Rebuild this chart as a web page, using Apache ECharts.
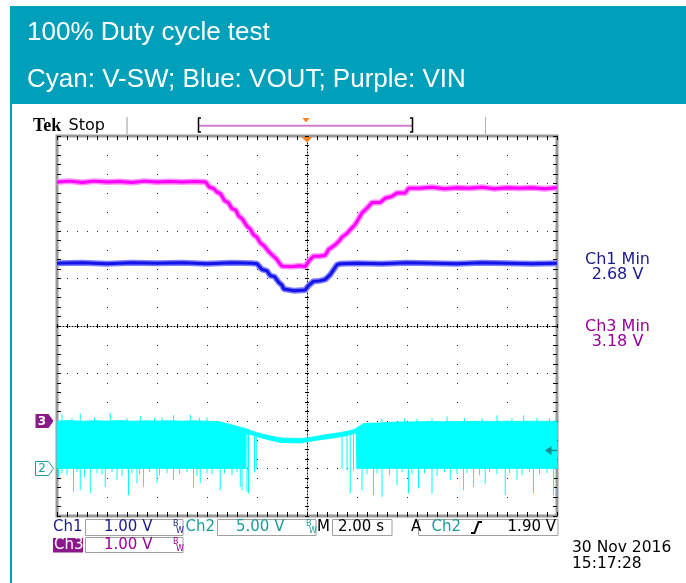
<!DOCTYPE html>
<html>
<head>
<meta charset="utf-8">
<script src="https://cdn.jsdelivr.net/npm/echarts@6/dist/echarts.min.js"></script>
<style>html,body{margin:0;padding:0;background:#fff;}#c{width:686px;height:583px;}</style>
</head>
<body>
<div id="c"></div>
<script>
// ---------------- DATA ----------------
// time in seconds (2 s/div, trigger at 0); volts per channel
const vin = [
  [-10, 5.03], [-9.5, 5.05], [-9, 5.02], [-8.5, 5.05], [-8, 5.03], [-7.5, 5.04], [-7, 5.02], [-6.5, 5.05],
  [-6, 5.03], [-5.5, 5.04], [-5, 5.03], [-4.5, 5.04], [-4.05, 5.03],
  [-3.9, 4.92], [-3.75, 4.90], [-3.6, 4.82], [-3.45, 4.78], [-3.3, 4.64], [-3.15, 4.60], [-3.0, 4.47],
  [-2.85, 4.44], [-2.74, 4.32], [-2.58, 4.25], [-2.4, 4.10], [-2.28, 4.05], [-2.14, 3.92], [-2.0, 3.87],
  [-1.87, 3.75], [-1.7, 3.68], [-1.54, 3.57], [-1.4, 3.50], [-1.2, 3.40], [-1.1, 3.32], [-1.0, 3.26],
  [-0.6, 3.25], [-0.3, 3.27], [-0.07, 3.25], [0.06, 3.36], [0.26, 3.47], [0.5, 3.47], [0.73, 3.49],
  [0.86, 3.61], [1.13, 3.71], [1.3, 3.80], [1.4, 3.87], [1.6, 3.95], [1.73, 4.03], [1.9, 4.12], [2.0, 4.20],
  [2.2, 4.38], [2.4, 4.48], [2.6, 4.60], [2.93, 4.60], [3.13, 4.69], [3.4, 4.73], [3.6, 4.80], [3.93, 4.80],
  [4.06, 4.90], [4.5, 4.90], [5, 4.92], [5.5, 4.89], [6, 4.91], [6.5, 4.90], [7, 4.92], [7.5, 4.89],
  [8, 4.91], [8.5, 4.90], [9, 4.91], [9.5, 4.89], [10, 4.91]
];
const vout = [
  [-10, 3.32], [-9, 3.33], [-8, 3.31], [-7, 3.33], [-6, 3.32], [-5, 3.33], [-4, 3.31], [-3, 3.33], [-2.2, 3.32],
  [-2.0, 3.31], [-1.8, 3.19], [-1.6, 3.16], [-1.47, 3.06], [-1.3, 3.04], [-1.13, 2.92], [-1.0, 2.86],
  [-0.93, 2.78], [-0.85, 2.74], [-0.5, 2.74], [-0.07, 2.76], [0.06, 2.85], [0.26, 2.94], [0.5, 2.95],
  [0.73, 2.98], [0.93, 3.08], [1.07, 3.19], [1.2, 3.29], [1.33, 3.31], [2, 3.32], [3, 3.31], [4, 3.33],
  [5, 3.32], [6, 3.31], [7, 3.33], [8, 3.32], [9, 3.31], [10, 3.32]
];
// switch node envelope (Ch2, 5 V/div)
const swTime = [-10, -9.5, -9, -8.5, -8, -7.5, -7, -6.5, -6, -5.5, -5, -4.5, -4, -3.5, -3.2, -2.95, -2.7, -2.47,
  -2.44, -2.2, -1.87, -1.5, -1.07, -0.6, -0.27, 0, 0.4, 0.75, 1.07, 1.47, 1.75, 1.98,
  2.0, 2.27, 2.6, 2.93, 3.3, 3.6, 4, 4.5, 5, 5.5, 6, 6.5, 7, 7.5, 8, 8.5, 9, 9.5, 10];
const swTop = [5.0, 5.05, 4.98, 5.03, 5.0, 5.04, 4.98, 5.02, 5.0, 5.03, 4.99, 5.02, 4.98, 4.93, 4.72, 4.56, 4.38, 4.22,
  4.18, 3.95, 3.68, 3.45, 3.22, 3.18, 3.16, 3.22, 3.4, 3.55, 3.68, 3.85, 4.0, 4.2,
  4.3, 4.74, 4.78, 4.8, 4.85, 4.9, 4.9, 4.93, 4.95, 4.93, 4.96, 4.95, 4.97, 4.95, 4.98, 4.96, 4.98, 4.97, 4.98];
const swBottom = [0, 0, 0, 0, 0, 0, 0, 0, 0, 0, 0, 0, 0, 0, 0, 0, 0, 0,
  3.75, 3.52, 3.26, 3.0, 2.74, 2.7, 2.69, 2.8, 2.98, 3.1, 3.22, 3.4, 3.55, 3.75,
  0, 0, 0, 0, 0, 0, 0, 0, 0, 0, 0, 0, 0, 0, 0, 0, 0, 0, 0];
// spikes: [time, from V, to V]
const swSpikes = [
  [-9.94, 0.3, -0.88], [-9.34, 0.3, -2.46], [-9.07, 0.3, -2.28], [-8.67, 0.3, -2.6], [-8.07, 0.3, -1.94],
  [-7.6, 0.3, -1.23], [-7.14, 0.3, -2.81], [-6.8, 0.3, -1.55], [-6.54, 0.3, -1.94], [-6.0, 0.3, -1.55],
  [-5.34, 0.3, -1.23], [-4.54, 0.3, -2.07], [-4.27, 0.3, -1.55], [-3.47, 0.3, -2.28], [-2.67, 0.3, -1.94],
  [-2.6, 0.3, -2.28], [-2.4, 3.7, -2.46], [-2.34, 3.7, -2.63], [-2.1, 3.5, -0.42], [-2.03, 3.4, 0.0],
  [1.4, 3.3, 0.0], [1.6, 3.4, -0.2], [1.73, 3.5, -2.63], [1.86, 3.6, -0.2],
  [2.2, 0.3, -2.28], [2.66, 0.3, -2.81], [3.0, 0.3, -2.99], [3.6, 0.3, -1.76], [4.06, 0.3, -2.63],
  [4.46, 0.3, -2.1], [5.0, 0.3, -2.63], [5.73, 0.3, -1.23], [6.26, 0.3, -2.28], [6.66, 0.3, -1.94],
  [7.13, 0.3, -1.58], [7.93, 0.3, -2.81], [8.4, 0.3, -1.23], [9.06, 0.3, -2.63], [9.86, 0.3, -2.81],
  [-9.8, 0.3, -0.5], [-9.6, 0.3, -0.7], [-9.2, 0.3, -0.4], [-8.9, 0.3, -0.9], [-8.4, 0.3, -0.5],
  [-8.2, 0.3, -0.6], [-7.8, 0.3, -0.4], [-7.4, 0.3, -0.8], [-7.0, 0.3, -0.5], [-6.7, 0.3, -0.6],
  [-6.3, 0.3, -0.4], [-5.9, 0.3, -0.7], [-5.6, 0.3, -0.5], [-5.1, 0.3, -0.6], [-4.8, 0.3, -0.4],
  [-4.4, 0.3, -0.8], [-4.0, 0.3, -0.5], [-3.8, 0.3, -0.6], [-3.3, 0.3, -0.5], [-3.0, 0.3, -0.7], [-2.8, 0.3, -0.4],
  [2.4, 0.3, -0.6], [2.8, 0.3, -0.5], [3.3, 0.3, -0.7], [3.8, 0.3, -0.4], [4.2, 0.3, -0.6], [4.7, 0.3, -0.5],
  [5.2, 0.3, -0.8], [5.5, 0.3, -0.4], [6.0, 0.3, -0.6], [6.4, 0.3, -0.5], [6.9, 0.3, -0.7], [7.3, 0.3, -0.4],
  [7.6, 0.3, -0.6], [8.1, 0.3, -0.5], [8.6, 0.3, -0.7], [8.9, 0.3, -0.4], [9.3, 0.3, -0.6], [9.6, 0.3, -0.5],
  [-9.8, 4.9, 5.68], [-9.07, 4.9, 5.79], [-7.87, 4.9, 5.79], [-6.67, 4.9, 5.5], [-5.34, 4.9, 5.6],
  [-4.67, 4.9, 5.68], [-4.0, 4.9, 5.4], [-9.4, 4.9, 5.3], [-8.5, 4.9, 5.35], [-7.2, 4.9, 5.3], [-6.1, 4.9, 5.3],
  [-5.8, 4.9, 5.35], [-4.3, 4.9, 5.3], [3.0, 4.7, 5.2], [3.9, 4.8, 5.25], [4.4, 4.8, 5.26], [5.0, 4.8, 5.3],
  [5.6, 4.8, 5.5], [6.3, 4.8, 5.3], [7.0, 4.8, 5.3], [7.6, 4.8, 5.6], [8.2, 4.8, 5.3], [8.67, 4.8, 5.6],
  [9.2, 4.8, 5.35], [9.7, 4.8, 5.3]
];
const triggerLevelCh2 = 1.90;

// ---------------- CHART ----------------
const chart = echarts.init(document.getElementById('c'));
const TICK = {color: '#000', width: 1};
const SANS = '"DejaVu Sans"';
const CYAN = '#00ffff';

function baseX(extra) {
  return Object.assign({
    type: 'value', min: -10, max: 10, interval: 2,
    axisLabel: {show: false},
    axisLine: {show: false, onZero: false},
    axisTick: {show: true, inside: true, length: 4, lineStyle: TICK},
    minorTick: {show: true, splitNumber: 5, length: 4, lineStyle: TICK},
    splitLine: {show: false}
  }, extra);
}
function baseY(min, max, interval, extra) {
  return Object.assign({
    type: 'value', min: min, max: max, interval: interval,
    axisLabel: {show: false},
    axisLine: {show: false, onZero: false},
    axisTick: {show: true, inside: true, length: 4, lineStyle: TICK},
    minorTick: {show: true, splitNumber: 5, length: 4, lineStyle: TICK},
    splitLine: {show: false}
  }, extra);
}
const centerLine = {show: true, onZero: false, lineStyle: {color: '#000', width: 1, type: [1, 2]}};
const shortTick = {show: true, inside: true, length: 2, lineStyle: TICK};
const shortMinor = {show: true, splitNumber: 5, length: 2, lineStyle: TICK};

const bandData = swTime.map((t, i) => [t, swBottom[i], swTop[i]]);

chart.setOption({
  animation: false,
  backgroundColor: '#fff',
  grid: {left: 57, top: 136, width: 500, height: 380, show: true, borderColor: '#9a9a9a', borderWidth: 3, backgroundColor: 'transparent'},
  xAxis: [
    baseX({position: 'bottom', splitLine: {show: true, lineStyle: {color: '#222', width: 1, type: [1, 18]}}}),
    baseX({position: 'top'}),
    baseX({position: 'bottom', offset: -190, axisLine: centerLine, axisTick: shortTick, minorTick: shortMinor}),
    baseX({position: 'bottom', offset: -190, axisTick: Object.assign({}, shortTick, {inside: false}), minorTick: shortMinor})
  ],
  yAxis: [
    baseY(-2, 6, 1, {position: 'left', splitLine: {show: true, lineStyle: {color: '#222', width: 1, type: [1, 9]}}}),
    baseY(-5, 35, 5, {position: 'right'}),
    baseY(-2, 6, 1, {position: 'left', offset: -250, axisLine: centerLine, axisTick: shortTick, minorTick: shortMinor}),
    baseY(-2, 6, 1, {position: 'left', offset: -250, axisTick: Object.assign({}, shortTick, {inside: false}), minorTick: shortMinor})
  ],
  series: [
    {type: 'custom', name: 'V-SW', xAxisIndex: 0, yAxisIndex: 1, data: bandData, encode: {x: 0, y: [1, 2]}, silent: true, z: 3,
     renderItem: function (params, api) {
       const i = params.dataIndexInside;
       if (i >= params.dataInsideLength - 1) return null;
       const t0 = api.value(0, i), b0 = api.value(1, i), h0 = api.value(2, i);
       const t1 = api.value(0, i + 1), b1 = api.value(1, i + 1), h1 = api.value(2, i + 1);
       const pts = [api.coord([t0, b0]), api.coord([t1, b1]), api.coord([t1, h1]), api.coord([t0, h0])];
       return {type: 'polygon', shape: {points: pts}, style: {fill: CYAN, stroke: CYAN, lineWidth: 0.8}};
     }},
    {type: 'custom', name: 'V-SW spikes', xAxisIndex: 0, yAxisIndex: 1, data: swSpikes, encode: {x: 0, y: [1, 2]}, silent: true, z: 3,
     renderItem: function (params, api) {
       const a = api.coord([api.value(0), api.value(1)]);
       const b = api.coord([api.value(0), api.value(2)]);
       return {type: 'line', shape: {x1: a[0], y1: a[1], x2: b[0], y2: b[1]}, style: {stroke: CYAN, lineWidth: 1}};
     }},
    {type: 'line', name: 'VIN halo', xAxisIndex: 0, yAxisIndex: 0, symbol: 'none', silent: true, data: vin,
     lineStyle: {color: '#ff8cff', width: 6}, z: 4},
    {type: 'line', name: 'VIN', xAxisIndex: 0, yAxisIndex: 0, symbol: 'none', silent: true, data: vin,
     lineStyle: {color: '#ff00ff', width: 3}, z: 5},
    {type: 'line', name: 'VOUT halo', xAxisIndex: 0, yAxisIndex: 0, symbol: 'none', silent: true, data: vout,
     lineStyle: {color: '#7c7cff', width: 6}, z: 4},
    {type: 'line', name: 'VOUT', xAxisIndex: 0, yAxisIndex: 0, symbol: 'none', silent: true, data: vout,
     lineStyle: {color: '#1414e6', width: 3}, z: 5}
  ]
});

// ---------------- DECORATIONS ----------------
function txt(x, y, text, color, size, extra, z) {
  return {
    type: 'text', x: x, y: y, z: z || 50,
    style: Object.assign({text: text, fill: color, fontSize: size, fontFamily: SANS,
      align: 'left', textAlign: 'left', verticalAlign: 'middle', textVerticalAlign: 'middle'}, (extra || {}))
  };
}
function box(x, y, w, h, stroke, fill) {
  return {type: 'rect', z: 40, shape: {x: x, y: y, width: w, height: h}, style: {fill: fill || '#fff', stroke: stroke || '#a0a0a0', lineWidth: 1}};
}
function bw(x, y, color) {
  return [txt(x, y - 3, 'B', color, 8), txt(x + 3, y + 3.5, 'W', color, 8)];
}
const TEAL = '#00a0ba';
const NAVY = '#1a1a8c';
const CH2C = '#1e9b9b';
const PURP = '#990099';

const g0 = chart.convertToPixel({xAxisIndex: 0, yAxisIndex: 0}, [-10, 0]);   // Ch1/Ch3 ground
const g2 = chart.convertToPixel({xAxisIndex: 0, yAxisIndex: 1}, [-10, 0]);   // Ch2 ground
const trg = chart.convertToPixel({xAxisIndex: 0, yAxisIndex: 1}, [10, triggerLevelCh2]);
const tpos = chart.convertToPixel({xAxisIndex: 0, yAxisIndex: 0}, [0, 6]);

const gx = g0[0] - 3.5;
const graphics = [
  {type: 'rect', z: 1, shape: {x: 10, y: 6, width: 676, height: 98}, style: {fill: TEAL}},
  {type: 'rect', z: 1, shape: {x: 10, y: 104, width: 2, height: 479}, style: {fill: TEAL}},
  txt(27, 32.5, '100% Duty cycle test', '#fff', 26, {fontFamily: '"Liberation Sans", Arial'}),
  txt(27, 80, 'Cyan: V-SW; Blue: VOUT; Purple: VIN', '#fff', 26, {fontFamily: '"Liberation Sans", Arial'}),
  // header
  txt(33, 126, 'Tek', '#000', 18, {fontFamily: '"Liberation Serif"', fontWeight: 'bold'}),
  txt(68.5, 126, 'Stop', '#000', 16),
  {type: 'line', z: 40, shape: {x1: 127, y1: 117, x2: 127, y2: 134}, style: {stroke: '#9a9a9a', lineWidth: 1}},
  {type: 'line', z: 40, shape: {x1: 485.5, y1: 117, x2: 485.5, y2: 134}, style: {stroke: '#b0b0b0', lineWidth: 1}},
  {type: 'line', z: 40, shape: {x1: 199, y1: 125.7, x2: 412, y2: 125.7}, style: {stroke: '#cc80cc', lineWidth: 2}},
  {type: 'polyline', z: 41, shape: {points: [[201, 118], [198.5, 118], [198.5, 132], [201, 132]]}, style: {stroke: '#000', lineWidth: 1.5, fill: null}},
  {type: 'polyline', z: 41, shape: {points: [[410, 118], [412.5, 118], [412.5, 132], [410, 132]]}, style: {stroke: '#000', lineWidth: 1.5, fill: null}},
  {type: 'polygon', z: 41, shape: {points: [[302.5, 118], [309.5, 118], [306, 122.5]]}, style: {fill: '#f5821f'}},
  {type: 'polygon', z: 60, shape: {points: [[tpos[0] - 5.5, tpos[1] + 1], [tpos[0] + 5.5, tpos[1] + 1], [tpos[0], tpos[1] + 6.5]]}, style: {fill: '#f5821f'}},
  // ground markers
  {type: 'polygon', z: 60, shape: {points: [[gx - 18, g0[1] - 7], [gx - 5, g0[1] - 7], [gx, g0[1]], [gx - 5, g0[1] + 7], [gx - 18, g0[1] + 7]]}, style: {fill: '#8a1a8a'}},
  txt(gx - 11.5, g0[1] + 0.5, '3', '#fff', 12, {align: 'center', textAlign: 'center', fontWeight: 'bold'}, 62),
  {type: 'polygon', z: 60, shape: {points: [[gx - 18, g2[1] - 7], [gx - 5, g2[1] - 7], [gx, g2[1]], [gx - 5, g2[1] + 7], [gx - 18, g2[1] + 7]]}, style: {fill: '#fff', stroke: CH2C, lineWidth: 1}},
  txt(gx - 11.5, g2[1] + 0.5, '2', CH2C, 12, {align: 'center', textAlign: 'center'}, 62),
  // trigger level arrow
  {type: 'polygon', z: 60, shape: {points: [[trg[0] - 12, trg[1]], [trg[0] - 5.5, trg[1] - 4.5], [trg[0] - 5.5, trg[1] + 4.5]]}, style: {fill: '#1a8f8f'}},
  {type: 'line', z: 60, shape: {x1: trg[0] - 6, y1: trg[1], x2: trg[0], y2: trg[1]}, style: {stroke: '#1a8f8f', lineWidth: 1.5}},
  // measurements
  txt(617.5, 259.5, 'Ch1 Min', NAVY, 16, {align: 'center', textAlign: 'center'}),
  txt(617.5, 274.5, '2.68 V', NAVY, 16, {align: 'center', textAlign: 'center'}),
  txt(617.5, 327, 'Ch3 Min', PURP, 16, {align: 'center', textAlign: 'center'}),
  txt(617.5, 342, '3.18 V', PURP, 16, {align: 'center', textAlign: 'center'}),
  // status bar row 1
  txt(53, 527, 'Ch1', NAVY, 15),
  box(85.5, 519.5, 97.5, 16),
  txt(104, 527.5, '1.00 V', NAVY, 15),
  ...bw(173, 527, NAVY),
  txt(185.5, 527, 'Ch2', CH2C, 15),
  box(217.5, 519.5, 98.5, 16),
  txt(236, 527.5, '5.00 V', CH2C, 15),
  ...bw(306, 527, CH2C),
  txt(317, 527, 'M', '#000', 15),
  box(332.5, 519.5, 59.5, 16),
  txt(338, 527.5, '2.00 s', '#000', 15),
  txt(411, 527, 'A', '#000', 15),
  box(418.5, 519.5, 139.5, 16),
  txt(431.5, 527.5, 'Ch2', CH2C, 15),
  {type: 'polyline', z: 45, shape: {points: [[471, 533], [474.5, 533], [478.5, 522], [482, 522]]}, style: {stroke: '#000', lineWidth: 2, fill: null}},
  txt(556, 527.5, '1.90 V', '#000', 15, {align: 'right', textAlign: 'right'}),
  // status bar row 2
  {type: 'rect', z: 40, shape: {x: 53, y: 538, width: 30, height: 14.5}, style: {fill: '#8a1a8a'}},
  txt(54, 545.5, 'Ch3', '#fff', 15),
  box(85.5, 537.5, 97.5, 15),
  txt(104, 545.5, '1.00 V', PURP, 15),
  ...bw(173, 545, PURP),
  // date
  txt(572, 547.5, '30 Nov 2016', '#000', 15.5),
  txt(572, 563.5, '15:17:28', '#000', 15.5)
];
chart.setOption({graphic: graphics});
</script>
</body>
</html>
